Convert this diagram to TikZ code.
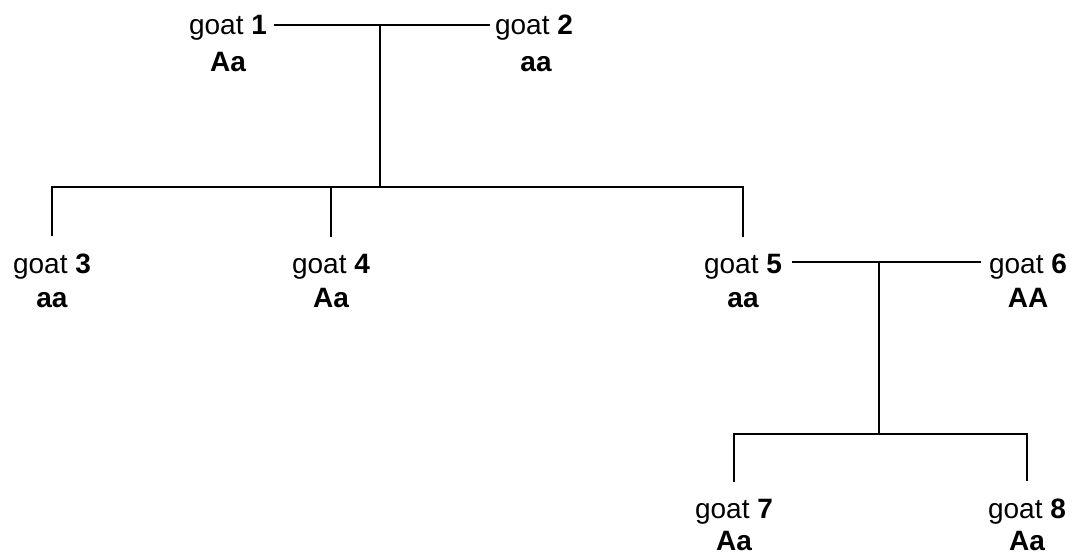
\documentclass[tikz,border=0pt]{standalone}
\usepackage{fontspec}
\setmainfont{Liberation Sans}
\begin{document}
\begin{tikzpicture}[x=1pt,y=-1pt,
  goatname/.style={anchor=base,inner sep=0pt,font=\fontsize{28}{32}\selectfont},
  genotype/.style={anchor=base,inner sep=0pt,text depth=0pt,font=\fontsize{28}{32}\selectfont\bfseries},
  link/.style={line width=2pt},
  drop/.style={link,shorten >=17pt}]
\useasboundingbox (0,0) rectangle (1076,556);
% names
\node[goatname] (g1) at (228,35) {goat \textbf{1}};
\node[goatname] (g2) at (534,35) {goat \textbf{2}};
\node[goatname] (g3) at (52,273) {goat \textbf{3}};
\node[goatname] (g4) at (331,273) {goat \textbf{4}};
\node[goatname] (g5) at (743,273) {goat \textbf{5}};
\node[goatname] (g6) at (1028,273) {goat \textbf{6}};
\node[goatname] (g7) at (734,518) {goat \textbf{7}};
\node[goatname] (g8) at (1027,518) {goat \textbf{8}};
% genotypes
\node[genotype] (a1) at (228,72) {Aa};
\node[genotype] (a2) at (536,72) {aa};
\node[genotype] (a3) at (52,307) {aa};
\node[genotype] (a4) at (331,307) {Aa};
\node[genotype] (a5) at (743,307) {aa};
\node[genotype] (a6) at (1028,307) {AA};
\node[genotype] (a7) at (734,550) {Aa};
\node[genotype] (a8) at (1027,550) {Aa};
% junctions
\coordinate (m1) at (380,25);
\coordinate (j1) at (380,187);
\coordinate (m2) at (879,262);
\coordinate (j2) at (879,434);
% connectors
\draw[link] ([xshift=7pt]g1.east |- m1) -- ([xshift=-5pt]g2.west |- m1);
\draw[link] (m1) -- (j1);
\draw[drop] (j1) -| (g3.north);
\draw[drop] (j1) -| (g5.north);
\draw[drop] (j1 -| g4.north) -- (g4.north);
\draw[link] ([xshift=10pt]g5.east |- m2) -- ([xshift=-8pt]g6.west |- m2);
\draw[link] (m2) -- (j2);
\draw[drop] (j2) -| (g7.north);
\draw[drop] (j2) -| (g8.north);
\end{tikzpicture}
\end{document}
